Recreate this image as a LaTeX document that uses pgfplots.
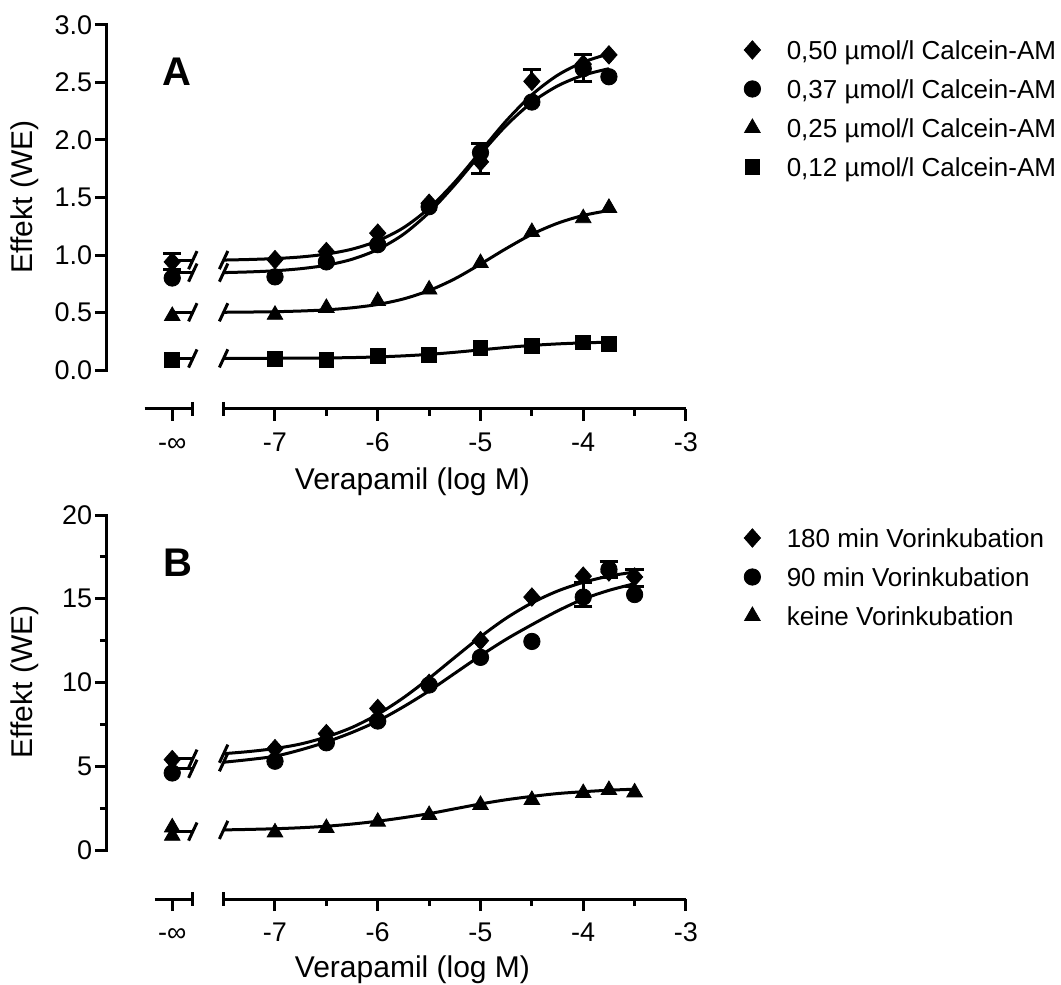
\documentclass[border=0pt]{standalone}
\usepackage{fontspec}
\setmainfont{Liberation Sans}
\usepackage{pgfplots}
\pgfplotsset{compat=1.18}
\pgfplotsset{
  base/.style={
    scale only axis, width=289.5pt, height=192pt,
    xmin=-8.635, xmax=-3, clip=false,
    axis lines*=left,
    axis line style={draw=none},
    tick align=outside,
    major tick length=6pt, minor tick length=3.5pt,
    tick style={black, line width=1.5pt},
    xtick={-8,-7,-6,-5,-4,-3},
    xticklabels={-∞,-7,-6,-5,-4,-3},
    minor xtick={-6.5,-5.5,-4.5,-3.5},
    tick label style={font=\fontsize{13.5}{16}\selectfont},
    xticklabel style={anchor=north, inner sep=0pt, text height=9.7pt, text depth=0pt, yshift=-5.5pt},
    yticklabel style={anchor=east, inner sep=0pt, xshift=-1.2pt},
    label style={font=\fontsize{15}{18}\selectfont},
    xlabel={Verapamil (log M)}, ylabel={Effekt (WE)},
    legend cell align=left,
    legend style={draw=none, fill=none, anchor=north west, inner sep=0pt, outer sep=0pt,
      row sep=7pt, column sep=10pt, font=\fontsize{13}{15.6}\selectfont,
      nodes={inner sep=0pt, text height=9.5pt, text depth=3pt}},
  },
  lm/.style={legend image code/.code={\path (-7pt,0pt) (7pt,0pt); \draw[##1] plot coordinates {(0pt,1.4pt)};}},
  dia/.style={black, only marks, mark=diamond*, mark size=4.6pt, mark options={solid, fill=black, xscale=1.18}, lm},
  cir/.style={black, only marks, mark=*, mark size=4.1pt, mark options={solid, fill=black}, lm},
  tri/.style={black, only marks, mark=triangle*, mark size=4.5pt, mark options={solid, fill=black}, lm},
  sqr/.style={black, only marks, mark=square*, mark size=3.7pt, mark options={solid, fill=black}, lm},
  curve/.style={black, line width=1.5pt, smooth, mark=none, forget plot},
  brk/.style={black, only marks, mark=|, mark size=5pt, mark options={rotate=-25, line width=1.5pt}, forget plot},
  ebp/.style={black, only marks, mark=none, forget plot, error bars/.cd, y dir=plus, y explicit,
    error bar style={line width=1.5pt}, error mark options={rotate=90, mark size=4.6pt, line width=1.5pt, black}},
  ebm/.style={black, only marks, mark=none, forget plot, error bars/.cd, y dir=minus, y explicit,
    error bar style={line width=1.5pt}, error mark options={rotate=90, mark size=4.6pt, line width=1.5pt, black}},
}
\begin{document}
\begin{tikzpicture}
% ---------------- Panel A ----------------
\begin{axis}[base, at={(0pt,0pt)}, anchor=south west,
  ymin=-0.339, ymax=3,
  ytick={0,0.5,1,1.5,2,2.5,3}, yticklabels={0.0,0.5,1.0,1.5,2.0,2.5,3.0},
  xlabel style={at={(rel axis cs:0.5276,-0.2109)}, anchor=base},
  ylabel style={at={(rel axis cs:-0.1278,0.552)}, anchor=base},
  legend style={at={(1.0898,0.9602)}},
]
\draw[line width=1.5pt, line cap=rect] (axis cs:-8.635,0) -- (axis cs:-8.635,3);
\draw[line width=1.5pt] (axis cs:-8.27,-0.339) -- (axis cs:-7.8,-0.339) ++(0pt,3.5pt) -- ++(0pt,-7pt);
\draw[line width=1.5pt] (axis cs:-7.5,-0.339) ++(0pt,3.5pt) -- ++(0pt,-7pt);
\draw[line width=1.5pt] (axis cs:-7.5,-0.339) -- (axis cs:-3,-0.339);
% fitted curves
\addplot[curve] coordinates {(-8,0.955)(-7.8,0.955)};
\addplot[curve] coordinates {(-7.5,0.956)(-7.25,0.961)(-7,0.969)(-6.75,0.983)(-6.5,1.008)(-6.25,1.051)(-6,1.123)(-5.75,1.237)(-5.5,1.407)(-5.25,1.634)(-5,1.900)(-4.75,2.166)(-4.5,2.393)(-4.25,2.563)(-4,2.677)(-3.75,2.749)};
\addplot[curve] coordinates {(-8,0.847)(-7.8,0.847)};
\addplot[curve] coordinates {(-7.5,0.847)(-7.25,0.853)(-7,0.863)(-6.75,0.881)(-6.5,0.911)(-6.25,0.963)(-6,1.048)(-5.75,1.180)(-5.5,1.370)(-5.25,1.611)(-5,1.877)(-4.75,2.126)(-4.5,2.327)(-4.25,2.470)(-4,2.563)(-3.75,2.620)};
\addplot[curve] coordinates {(-8,0.502)(-7.8,0.502)};
\addplot[curve] coordinates {(-7.5,0.502)(-7.25,0.504)(-7,0.507)(-6.75,0.513)(-6.5,0.523)(-6.25,0.541)(-6,0.570)(-5.75,0.618)(-5.5,0.691)(-5.25,0.793)(-5,0.921)(-4.75,1.056)(-4.5,1.180)(-4.25,1.276)(-4,1.344)(-3.75,1.387)};
\addplot[curve] coordinates {(-8,0.100)(-7.8,0.100)};
\addplot[curve] coordinates {(-7.5,0.101)(-7.25,0.101)(-7,0.102)(-6.75,0.103)(-6.5,0.105)(-6.25,0.108)(-6,0.114)(-5.75,0.123)(-5.5,0.136)(-5.25,0.154)(-5,0.175)(-4.75,0.196)(-4.5,0.214)(-4.25,0.227)(-4,0.236)(-3.75,0.242)};
\addplot[brk] coordinates {(-7.8,0.955)(-7.5,0.956)(-7.8,0.847)(-7.5,0.847)(-7.8,0.502)(-7.5,0.502)(-7.8,0.100)(-7.5,0.101)};
% error bars
\addplot[ebp] coordinates {(-8,0.94) +- (0,0.07) (-8,0.80) +- (0,0.07) (-5,1.89) +- (0,0.08) (-4.5,2.51) +- (0,0.10) (-4,2.66) +- (0,0.08)};
\addplot[ebm] coordinates {(-5,1.81) +- (0,0.10) (-4,2.62) +- (0,0.11)};
% data
\addplot[dia] coordinates {(-8,0.94)(-7,0.96)(-6.5,1.03)(-6,1.19)(-5.5,1.45)(-5,1.81)(-4.5,2.51)(-4,2.66)(-3.75,2.74)};
\addlegendentry{0,50 µmol/l Calcein-AM}
\addplot[cir] coordinates {(-8,0.80)(-7,0.81)(-6.5,0.94)(-6,1.09)(-5.5,1.42)(-5,1.89)(-4.5,2.33)(-4,2.62)(-3.75,2.55)};
\addlegendentry{0,37 µmol/l Calcein-AM}
\addplot[tri] coordinates {(-8,0.47)(-7,0.48)(-6.5,0.54)(-6,0.60)(-5.5,0.70)(-5,0.93)(-4.5,1.20)(-4,1.32)(-3.75,1.41)};
\addlegendentry{0,25 µmol/l Calcein-AM}
\addplot[sqr] coordinates {(-8,0.09)(-7,0.10)(-6.5,0.09)(-6,0.12)(-5.5,0.13)(-5,0.19)(-4.5,0.21)(-4,0.24)(-3.75,0.23)};
\addlegendentry{0,12 µmol/l Calcein-AM}
\node[anchor=base west, inner sep=0pt, font=\bfseries\fontsize{20}{20}\selectfont] at (axis cs:-8.10,2.478) {A};
\end{axis}
% ---------------- Panel B ----------------
\begin{axis}[base, at={(0pt,-245pt)}, anchor=south west,
  ymin=-2.925, ymax=20,
  ytick={0,5,10,15,20}, yticklabels={0,5,10,15,20},
  minor ytick={2.5,7.5,12.5,17.5},
  xlabel style={at={(rel axis cs:0.5276,-0.2057)}, anchor=base},
  ylabel style={at={(rel axis cs:-0.1278,0.565)}, anchor=base},
  legend style={at={(1.0898,0.9654)}},
]
\draw[line width=1.5pt, line cap=rect] (axis cs:-8.635,0) -- (axis cs:-8.635,20);
\draw[line width=1.5pt] (axis cs:-8.17,-2.925) -- (axis cs:-7.8,-2.925) ++(0pt,3.5pt) -- ++(0pt,-7pt);
\draw[line width=1.5pt] (axis cs:-7.5,-2.925) ++(0pt,3.5pt) -- ++(0pt,-7pt);
\draw[line width=1.5pt] (axis cs:-7.5,-2.925) -- (axis cs:-3,-2.925);
% fitted curves
\addplot[curve] coordinates {(-8,5.45)(-7.8,5.45)};
\addplot[curve] coordinates {(-7.5,5.75)(-7.25,5.88)(-7,6.06)(-6.75,6.33)(-6.5,6.75)(-6.25,7.32)(-6,8.10)(-5.75,9.09)(-5.5,10.25)(-5.25,11.50)(-5,12.73)(-4.75,13.84)(-4.5,14.75)(-4.25,15.46)(-4,15.98)(-3.75,16.35)(-3.5,16.60)};
\addplot[curve] coordinates {(-8,4.85)(-7.8,4.85)};
\addplot[curve] coordinates {(-7.5,5.24)(-7.25,5.40)(-7,5.60)(-6.75,5.98)(-6.5,6.45)(-6.25,7.02)(-6,7.70)(-5.75,8.55)(-5.5,9.50)(-5.25,10.55)(-5,11.60)(-4.75,12.58)(-4.5,13.45)(-4.25,14.27)(-4,14.98)(-3.75,15.50)(-3.5,15.90)};
\addplot[curve] coordinates {(-8,1.10)(-7.8,1.10)};
\addplot[curve] coordinates {(-7.5,1.20)(-7.25,1.23)(-7,1.27)(-6.75,1.33)(-6.5,1.42)(-6.25,1.55)(-6,1.72)(-5.75,1.93)(-5.5,2.17)(-5.25,2.46)(-5,2.75)(-4.75,3.00)(-4.5,3.20)(-4.25,3.37)(-4,3.48)(-3.75,3.57)(-3.5,3.63)};
\addplot[brk] coordinates {(-7.8,5.45)(-7.5,5.75)(-7.8,4.85)(-7.5,5.24)(-7.8,1.10)(-7.5,1.20)};
% error bars
\addplot[ebp] coordinates {(-4,15.1) +- (0,0.9) (-3.75,16.75) +- (0,0.5) (-3.5,15.25) +- (0,0.5) (-3.5,16.3) +- (0,0.45)};
\addplot[ebm] coordinates {(-4,15.1) +- (0,0.55) (-3.75,16.75) +- (0,0.5)};
% data
\addplot[dia] coordinates {(-8,5.4)(-7,6.05)(-6.5,6.95)(-6,8.45)(-5.5,9.95)(-5,12.5)(-4.5,15.1)(-4,16.35)(-3.75,16.6)(-3.5,16.3)};
\addlegendentry{180 min Vorinkubation}
\addplot[cir] coordinates {(-8,4.6)(-7,5.3)(-6.5,6.4)(-6,7.7)(-5.5,9.85)(-5,11.5)(-4.5,12.45)(-4,15.1)(-3.75,16.75)(-3.5,15.25)};
\addlegendentry{90 min Vorinkubation}
\addplot[tri] coordinates {(-8,1.35)(-8,0.85)(-7,1.05)(-6.5,1.31)(-6,1.69)(-5.5,2.09)(-5,2.69)(-4.5,2.99)(-4,3.40)(-3.75,3.58)(-3.5,3.44)};
\addlegendentry{keine Vorinkubation}
\node[anchor=base west, inner sep=0pt, font=\bfseries\fontsize{20}{20}\selectfont] at (axis cs:-8.09,16.3) {B};
\end{axis}
\pgfresetboundingbox
\path[use as bounding box] (-53.5pt,-288pt) rectangle (477pt,204.5pt);
\end{tikzpicture}
\end{document}
